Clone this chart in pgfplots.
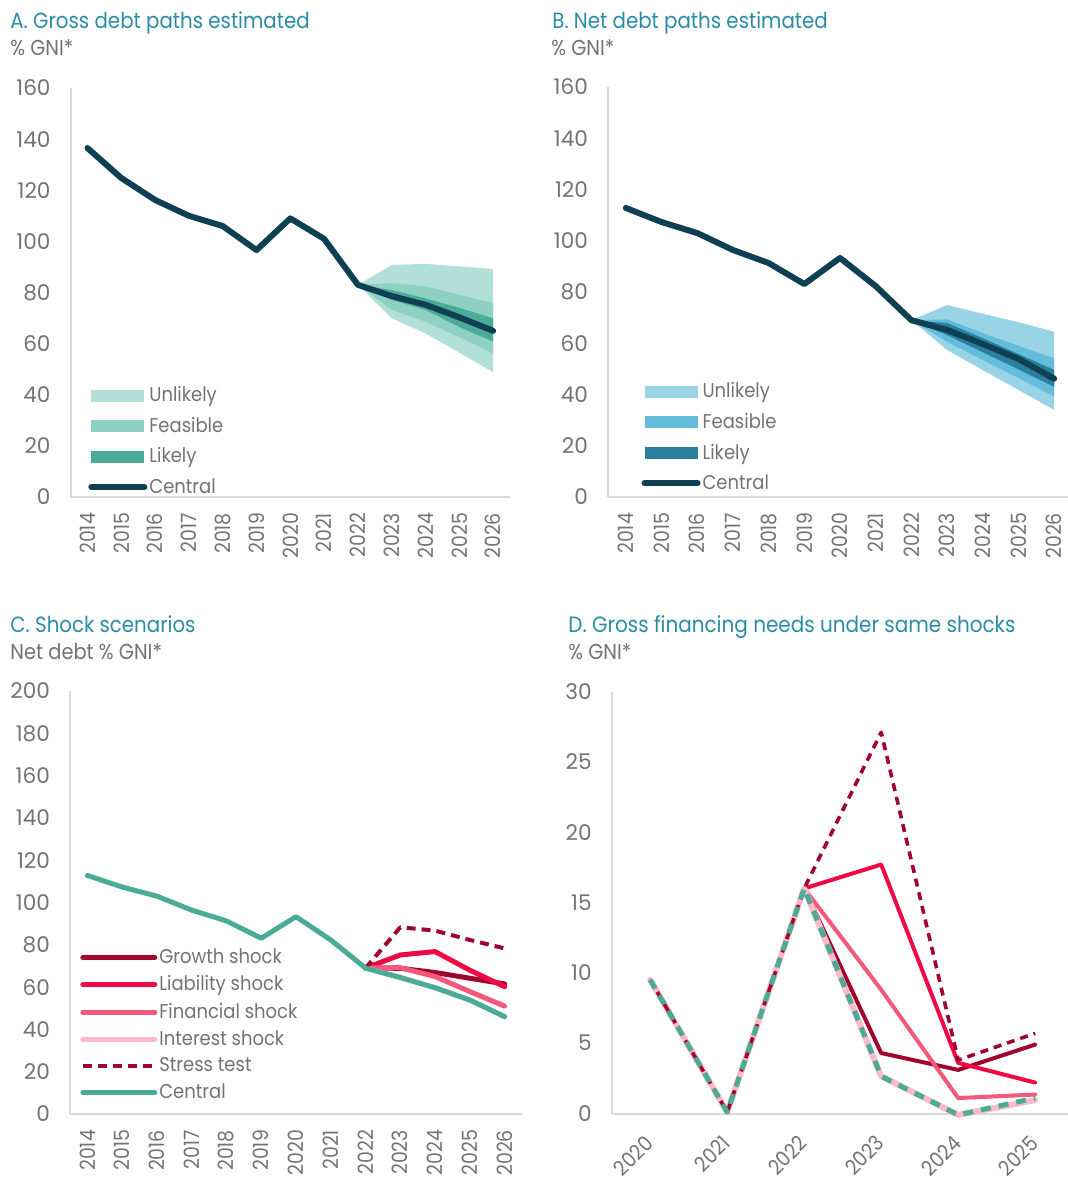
\documentclass[border=0pt]{standalone}
\usepackage{fontspec}
\setmainfont{Poppins}[FakeStretch=0.9]
\newfontfamily\tickfont{Poppins}
\usepackage{pgfplots}
\pgfplotsset{compat=1.18}

\definecolor{titleteal}{RGB}{43,140,165}
\definecolor{txtgray}{RGB}{115,115,115}
\definecolor{axgray}{RGB}{217,217,217}
\definecolor{aUnl}{RGB}{179,224,214}
\definecolor{aFea}{RGB}{142,208,194}
\definecolor{aLik}{RGB}{74,171,150}
\definecolor{central}{RGB}{14,63,82}
\definecolor{bUnl}{RGB}{153,211,230}
\definecolor{bFea}{RGB}{99,188,217}
\definecolor{bLik}{RGB}{42,127,158}
\definecolor{growth}{RGB}{160,5,45}
\definecolor{liab}{RGB}{240,10,69}
\definecolor{fin}{RGB}{244,88,122}
\definecolor{intr}{RGB}{255,186,202}
\definecolor{cteal}{RGB}{74,171,150}

\pgfplotsset{
  base/.style={
    scale only axis, clip=false,
    axis lines*=left,
    axis line style={axgray, line width=1pt},
    major tick length=0pt,
    tick style={draw=none},
    xticklabel style={font=\fontsize{10.5}{12}\selectfont, text=txtgray},
    yticklabel style={font=\tickfont\fontsize{10.8}{12}\selectfont, text=txtgray, xshift=-6.5pt},
    /pgf/number format/assume math mode=true,
    legend style={draw=none, fill=none, inner sep=0pt, row sep=4.2pt,
      font=\fontsize{10}{12}\selectfont, text=txtgray,
      nodes={inner sep=1pt}},
    legend cell align=left,
  },
  years/.style={
    xmin=-0.5, xmax=12.5, xtick={0,...,12},
    xticklabels={2014,2015,2016,2017,2018,2019,2020,2021,2022,2023,2024,2025,2026},
    xticklabel style={yshift=-4.5pt, rotate=90, anchor=east},
  },
  band/.style={fill=#1, draw=none,
    legend image code/.code={\fill[##1] (0pt,-3pt) rectangle (26.5pt,3pt);}},
  cline/.style={line width=#1, line cap=round, line join=round,
    legend image code/.code={\draw[##1] (0pt,0pt) -- (26.5pt,0pt);}},
  cline2/.style={line width=#1, line cap=round, line join=round,
    legend image code/.code={\draw[##1] (0pt,0pt) -- (36pt,0pt);}},
}

\begin{document}
\begin{tikzpicture}
\useasboundingbox (0pt,0pt) rectangle (534pt,-590pt);

% ---------------- Panel A ----------------
\node[anchor=base west, inner sep=0pt, text=titleteal, font=\fontsize{11}{14}\selectfont] at (5pt,-14pt) {A. Gross debt paths estimated};
\node[anchor=base west, inner sep=0pt, text=txtgray, font=\fontsize{10.8}{12}\selectfont] at (5pt,-27.5pt) {\% GNI*};
\begin{axis}[base, years, at={(35.3pt,-248.5pt)}, anchor=south west,
  width=219.7pt, height=204.5pt, ymin=0, ymax=160, ytick={0,20,...,160},
  legend style={at={(0.0395,0.276)}, anchor=north west}]
\addplot[band=aUnl] coordinates {(8,83)(9,90.8)(10,91.2)(11,90.2)(12,89.2)(12,48.8)(11,56.5)(10,64)(9,69.9)(8,83)} -- cycle;
\addlegendentry{Unlikely}
\addplot[band=aFea] coordinates {(8,83)(9,83.6)(10,82.5)(11,79.2)(12,75.8)(12,56.2)(11,62.5)(10,68.6)(9,73.2)(8,83)} -- cycle;
\addlegendentry{Feasible}
\addplot[band=aLik] coordinates {(8,83)(9,81)(10,77.7)(11,74)(12,69.9)(12,60.8)(11,66.5)(10,73.2)(9,77.1)(8,83)} -- cycle;
\addlegendentry{Likely}
\addplot[cline=3pt, central] coordinates {(0,136.5)(1,124.8)(2,116.2)(3,110)(4,106)(5,96.6)(6,109)(7,101)(8,83)(9,78.6)(10,75.2)(11,70.3)(12,65)};
\addlegendentry{Central}
\end{axis}

% ---------------- Panel B ----------------
\node[anchor=base west, inner sep=0pt, text=titleteal, font=\fontsize{11}{14}\selectfont] at (276pt,-14pt) {B. Net debt paths estimated};
\node[anchor=base west, inner sep=0pt, text=txtgray, font=\fontsize{10.8}{12}\selectfont] at (275.5pt,-27.5pt) {\% GNI*};
\begin{axis}[base, years, at={(304pt,-248.5pt)}, anchor=south west,
  width=232pt, height=205pt, ymin=0, ymax=160, ytick={0,20,...,160},
  legend style={at={(0.0714,0.285)}, anchor=north west}]
\addplot[band=bUnl] coordinates {(8,69)(9,74.9)(10,71.5)(11,68.2)(12,64.5)(12,34)(11,41.8)(10,49.5)(9,57.4)(8,69)} -- cycle;
\addlegendentry{Unlikely}
\addplot[band=bFea] coordinates {(8,69)(9,69.3)(10,64)(11,59)(12,54.1)(12,39.3)(11,46.4)(10,53.5)(9,60.6)(8,69)} -- cycle;
\addlegendentry{Feasible}
\addplot[band=bLik] coordinates {(8,69)(9,67.9)(10,62)(11,55.8)(12,49.6)(12,43)(11,49.8)(10,56.5)(9,63.2)(8,69)} -- cycle;
\addlegendentry{Likely}
\addplot[cline=3pt, central] coordinates {(0,112.8)(1,107.3)(2,103)(3,96.4)(4,91.3)(5,83.1)(6,93.3)(7,82.3)(8,69)(9,65.2)(10,59.7)(11,53.9)(12,46.2)};
\addlegendentry{Central}
\end{axis}

% ---------------- Panel C ----------------
\node[anchor=base west, inner sep=0pt, text=titleteal, font=\fontsize{11}{14}\selectfont] at (5pt,-316pt) {C. Shock scenarios};
\node[anchor=base west, inner sep=0pt, text=txtgray, font=\fontsize{10.8}{12}\selectfont] at (5pt,-329.5pt) {Net debt \% GNI*};
\begin{axis}[base, years, at={(35pt,-557pt)}, anchor=south west,
  width=226pt, height=211.5pt, ymin=0, ymax=200, ytick={0,20,...,200},
  legend style={at={(0.022,0.397)}, anchor=north west, row sep=2.6pt}]
\addplot[cline2=2.5pt, growth] coordinates {(8,69)(9,68.9)(10,66.9)(11,64.2)(12,61.5)};
\addlegendentry{Growth shock}
\addplot[cline2=2.5pt, liab] coordinates {(8,69)(9,75.2)(10,76.8)(11,68)(12,60.2)};
\addlegendentry{Liability shock}
\addplot[cline2=2.5pt, fin] coordinates {(8,69)(9,69.2)(10,65)(11,57.9)(12,51)};
\addlegendentry{Financial shock}
\addplot[cline2=2.5pt, intr] coordinates {(8,69)(9,64.7)(10,59.7)(11,53.9)(12,46.2)};
\addlegendentry{Interest shock}
\addplot[cline2=2pt, growth, line cap=butt, dash pattern=on 4.5pt off 3pt] coordinates {(8,69)(9,88.3)(10,86.7)(11,82.3)(12,78.3)};
\addlegendentry{Stress test}
\addplot[cline2=2.5pt, cteal] coordinates {(0,112.8)(1,107.3)(2,103)(3,96.4)(4,91.3)(5,83.1)(6,93.3)(7,82.3)(8,69)(9,64.5)(10,59.7)(11,53.9)(12,46)};
\addlegendentry{Central}
\end{axis}

% ---------------- Panel D ----------------
\node[anchor=base west, inner sep=0pt, text=titleteal, font=\fontsize{11.1}{14}\selectfont] at (284pt,-316pt) {D. Gross financing needs under same shocks};
\node[anchor=base west, inner sep=0pt, text=txtgray, font=\fontsize{10.8}{12}\selectfont] at (284pt,-329.5pt) {\% GNI*};
\begin{axis}[base, at={(305.85pt,-556.75pt)}, anchor=south west,
  width=231pt, height=211pt, ymin=0, ymax=30, ytick={0,5,...,30},
  xmin=-0.5, xmax=5.5, xtick={0,...,5},
  xticklabels={2020,2021,2022,2023,2024,2025},
  xticklabel style={xshift=2pt, yshift=-10.5pt, rotate=45, anchor=east}]
\addplot[cline=2pt, growth] coordinates {(0,9.5)(1,0.1)(2,16)(3,4.3)(4,3.1)(5,4.9)};
\addplot[cline=2pt, liab] coordinates {(2,16)(3,17.7)(4,3.6)(5,2.2)};
\addplot[cline=2pt, fin] coordinates {(0,9.5)(1,0.1)(2,16)(3,8.8)(4,1.1)(5,1.35)};
\addplot[cline=3pt, intr] coordinates {(0,9.5)(1,0.1)(2,16)(3,2.65)(4,-0.1)(5,0.95)};
\addplot[cline=1.8pt, growth, line cap=butt, dash pattern=on 4pt off 3pt] coordinates {(0,9.5)(1,0.1)(2,16)(3,27.1)(4,3.8)(5,5.7)};
\addplot[cline=2.5pt, cteal, line cap=butt, dash pattern=on 5pt off 4pt] coordinates {(0,9.5)(1,0.1)(2,16)(3,2.65)(4,-0.1)(5,1.1)};
\end{axis}
\end{tikzpicture}
\end{document}
